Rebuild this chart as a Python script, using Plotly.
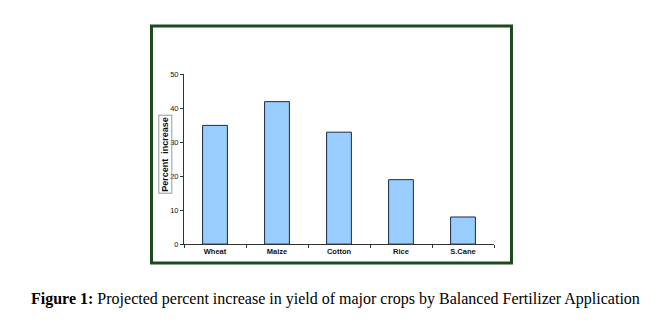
import plotly.graph_objects as go

# Crop yield data
crops = ["Wheat", "Maize", "Cotton", "Rice", "S.Cane"]
percent_increase = [35, 42, 33, 19, 8]
y_ticks = [0, 10, 20, 30, 40, 50]

W, H = 667, 324


def px(x):
    return x / W


def py(y):
    return 1 - y / H


fig = go.Figure(
    go.Bar(
        x=crops,
        y=percent_increase,
        marker=dict(color="#99CCFF", line=dict(color="#1c2a44", width=1)),
        width=0.4,
    )
)

axis_font = dict(family="Arial, Liberation Sans, sans-serif", size=7.5, color="#111")

fig.update_layout(
    width=W,
    height=H,
    margin=dict(l=0, r=0, t=0, b=0),
    paper_bgcolor="white",
    plot_bgcolor="white",
    showlegend=False,
    xaxis=dict(
        domain=[px(184), px(494)],
        showline=True,
        linecolor="#333",
        linewidth=1,
        ticks="outside",
        ticklen=3,
        tickcolor="#333",
        tickson="boundaries",
        tickfont=axis_font,
        tickprefix="<b>",
        ticksuffix="</b>",
        showgrid=False,
        fixedrange=True,
    ),
    yaxis=dict(
        domain=[py(247), py(72.5)],
        range=[0, 50],
        tickvals=y_ticks,
        showline=True,
        linecolor="#333",
        linewidth=1,
        ticks="outside",
        ticklen=3,
        tickcolor="#333",
        tickfont=axis_font,
        tickprefix="<b>",
        ticksuffix="</b>",
        showgrid=False,
        zeroline=False,
        fixedrange=True,
    ),
    shapes=[
        dict(
            type="rect",
            xref="paper",
            yref="paper",
            x0=px(151.5),
            x1=px(511.5),
            y0=py(266.5),
            y1=py(22.5),
            line=dict(color="#1f4a1f", width=3),
        )
    ],
    annotations=[
        dict(
            text="<b>Percent  increase</b>",
            xref="paper",
            yref="paper",
            x=px(158),
            y=py(155),
            textangle=-90,
            showarrow=False,
            font=dict(family="Arial, Liberation Sans, sans-serif", size=9, color="#111"),
            bordercolor="#999",
            borderwidth=1,
            borderpad=1,
        ),
        dict(
            text="<b>Figure 1:</b> Projected percent increase in yield of major crops by Balanced Fertilizer Application",
            xref="paper",
            yref="paper",
            x=px(335),
            y=py(303),
            yanchor="middle",
            showarrow=False,
            font=dict(family="Liberation Serif, Times New Roman, serif", size=16, color="#000"),
        ),
    ],
)

fig.write_html("out.html")
